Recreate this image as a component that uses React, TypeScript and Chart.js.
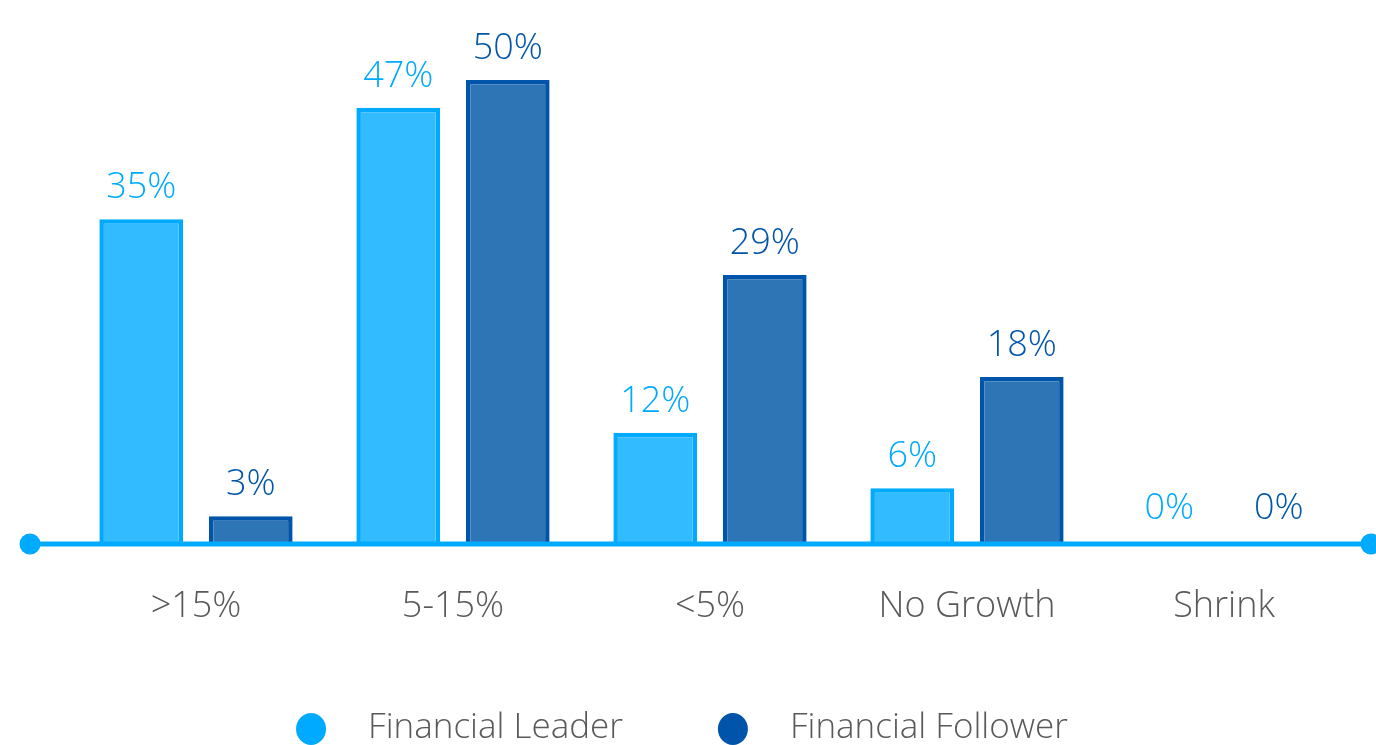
import React, { useEffect, useRef } from "react";
import { Chart, registerables } from "chart.js";

Chart.register(...registerables);

const categories = [">15%", "5-15%", "<5%", "No Growth", "Shrink"];
const leaderValues = [35, 47, 12, 6, 0];
const followerValues = [3, 50, 29, 18, 0];
const seriesNames = ["Financial Leader", "Financial Follower"];

const LEADER_FILL = "#33BBFF";
const LEADER_BORDER = "#00AAFF";
const FOLLOWER_FILL = "#2E75B6";
const FOLLOWER_BORDER = "#0055AA";
const TEXT_GRAY = "#595959";
const FONT = "'Open Sans', 'Noto Sans', sans-serif";

const axisLinePlugin = {
  id: "axisLine",
  afterDatasetsDraw(chart: any) {
    const { ctx } = chart;
    const y = chart.scales.y.getPixelForValue(0);
    ctx.save();
    ctx.strokeStyle = LEADER_BORDER;
    ctx.lineWidth = 5;
    ctx.beginPath();
    ctx.moveTo(30, y);
    ctx.lineTo(1371, y);
    ctx.stroke();
    ctx.fillStyle = LEADER_BORDER;
    ctx.beginPath();
    ctx.arc(30, y, 10.5, 0, Math.PI * 2);
    ctx.fill();
    ctx.beginPath();
    ctx.arc(1371, y, 10.5, 0, Math.PI * 2);
    ctx.fill();
    ctx.restore();
  },
};

const valueLabelPlugin = {
  id: "valueLabels",
  afterDatasetsDraw(chart: any) {
    const { ctx } = chart;
    ctx.save();
    ctx.font = `300 36px ${FONT}`;
    ctx.textAlign = "center";
    ctx.textBaseline = "alphabetic";
    chart.data.datasets.forEach((ds: any, di: number) => {
      const meta = chart.getDatasetMeta(di);
      ctx.fillStyle = ds.borderColor;
      meta.data.forEach((bar: any, i: number) => {
        const v = ds.data[i];
        ctx.fillText(`${v}%`, bar.x, Math.min(bar.y, bar.base - 4) - 21);
      });
    });
    ctx.restore();
  },
};

const customLegendPlugin = {
  id: "customLegend",
  afterDraw(chart: any) {
    const { ctx } = chart;
    ctx.save();
    ctx.font = `300 35px ${FONT}`;
    ctx.textBaseline = "middle";
    ctx.textAlign = "left";
    const r = 15;
    const textGap = 57;
    const itemGap = 95;
    const items = chart.data.datasets.map((ds: any) => ({
      label: ds.label,
      color: ds.borderColor,
      w: textGap + ctx.measureText(ds.label).width,
    }));
    const total =
      items.reduce((s: number, it: any) => s + it.w + r, 0) + itemGap * (items.length - 1);
    let x = chart.width / 2 - total / 2 - 6;
    const y = 729;
    items.forEach((it: any) => {
      const cx = x + r;
      ctx.fillStyle = it.color;
      ctx.beginPath();
      ctx.ellipse(cx, y, r, r + 1, 0, 0, Math.PI * 2);
      ctx.fill();
      ctx.fillStyle = TEXT_GRAY;
      ctx.fillText(it.label, cx + textGap, y - 1);
      x += it.w + r + itemGap;
    });
    ctx.restore();
  },
};

export default function App() {
  const canvasRef = useRef<HTMLCanvasElement | null>(null);

  useEffect(() => {
    if (!canvasRef.current) return;
    const chart = new Chart(canvasRef.current, {
      type: "bar",
      data: {
        labels: categories,
        datasets: [
          {
            label: seriesNames[0],
            data: leaderValues,
            backgroundColor: LEADER_FILL,
            borderColor: LEADER_BORDER,
            borderWidth: 4.5,
            borderSkipped: "start",
            categoryPercentage: 0.852,
            barPercentage: 0.765,
          },
          {
            label: seriesNames[1],
            data: followerValues,
            backgroundColor: FOLLOWER_FILL,
            borderColor: FOLLOWER_BORDER,
            borderWidth: 4.5,
            borderSkipped: "start",
            categoryPercentage: 0.852,
            barPercentage: 0.765,
          },
        ],
      },
      options: {
        animation: false,
        responsive: true,
        maintainAspectRatio: false,
        layout: {
          padding: { left: 67.5, right: 23.5, top: 33.6, bottom: 101 },
        },
        plugins: {
          legend: { display: false },
          tooltip: { enabled: false },
        },
        scales: {
          x: {
            grid: { display: false, drawTicks: false },
            border: { display: false },
            ticks: {
              color: TEXT_GRAY,
              font: { family: FONT, size: 36, weight: 300 },
              padding: 41,
            },
            afterFit: (scale: any) => {
              scale.height = 100;
            },
          },
          y: {
            display: false,
            min: 0,
            max: 55,
          },
        },
      },
      plugins: [axisLinePlugin, valueLabelPlugin, customLegendPlugin],
    });
    return () => chart.destroy();
  }, []);

  return (
    <div style={{ position: "fixed", left: 0, top: 0, width: 1376, height: 745, background: "#fff" }}>
      <canvas ref={canvasRef} />
    </div>
  );
}
